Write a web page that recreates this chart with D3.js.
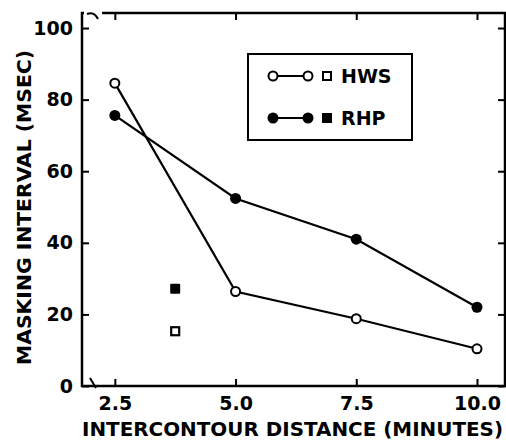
<!DOCTYPE html>
<html>
<head>
<meta charset="utf-8">
<script src="https://cdn.jsdelivr.net/npm/d3@7"></script>
<style>
  body { margin: 0; background: #fff; }
  svg { display: block; }
</style>
</head>
<body>
<div id="chart"></div>
<script>
// data
const distances = [2.5, 5.0, 7.5, 10.0];
const hwsValues = [84.6, 26.4, 18.8, 10.4];
const rhpValues = [75.6, 52.4, 41.0, 22.0];
const squareX = 3.75;
const hwsSquare = 15.3;
const rhpSquare = 27.2;
const xTicks = [2.5, 5.0, 7.5, 10.0];
const yTicks = [0, 20, 40, 60, 80, 100];

const W = 506, H = 440;
const plotLeft = 82, plotRight = 505, plotTop = 13, plotBottom = 386;
const font = "'DejaVu Sans', sans-serif";

const svg = d3.select("#chart").append("svg")
  .attr("width", W)
  .attr("height", H);

const x = d3.scaleLinear().domain([1.82, 10.58]).range([plotLeft, plotRight]);
const y = d3.scaleLinear().domain([0, 104.2]).range([plotBottom, plotTop]);

// frame
svg.append("rect")
  .attr("x", plotLeft).attr("y", plotTop)
  .attr("width", plotRight - plotLeft).attr("height", plotBottom - plotTop)
  .attr("fill", "none").attr("stroke", "#000").attr("stroke-width", 2.5);

const tickLen = 7;

const styleAxis = (g) => {
  g.select(".domain").remove();
  g.selectAll(".tick line").attr("stroke", "#000").attr("stroke-width", 2);
};

svg.append("g")
  .attr("transform", `translate(0,${plotBottom})`)
  .call(d3.axisBottom(x).tickValues(xTicks).tickSize(-tickLen).tickPadding(11)
    .tickFormat(d3.format(".1f")))
  .call(styleAxis)
  .call(g => g.selectAll("text")
    .attr("font-family", font).attr("font-size", 19).attr("font-weight", "bold")
    .attr("fill", "#000"));

svg.append("g")
  .attr("transform", `translate(0,${plotTop})`)
  .call(d3.axisTop(x).tickValues(xTicks).tickSize(-tickLen).tickFormat(""))
  .call(styleAxis);

svg.append("g")
  .attr("transform", `translate(${plotLeft},0)`)
  .call(d3.axisLeft(y).tickValues(yTicks).tickSize(-tickLen).tickPadding(9))
  .call(styleAxis)
  .call(g => g.selectAll("text")
    .attr("font-family", font).attr("font-size", 19).attr("font-weight", "bold")
    .attr("fill", "#000"));

svg.append("g")
  .attr("transform", `translate(${plotRight},0)`)
  .call(d3.axisRight(y).tickValues(yTicks).tickSize(-tickLen).tickFormat(""))
  .call(styleAxis);

// axis break marks near the corner
svg.append("path")
  .attr("d", `M${plotLeft + 8},${plotBottom - 8} L${plotLeft + 14},${plotBottom + 2}`)
  .attr("stroke", "#000").attr("stroke-width", 2).attr("fill", "none");
svg.append("rect")
  .attr("x", plotLeft + 2).attr("y", plotTop - 3).attr("width", 18).attr("height", 6)
  .attr("fill", "#fff");
svg.append("path")
  .attr("d", `M${plotLeft + 5},${plotTop + 1} Q${plotLeft + 12},${plotTop - 2} ${plotLeft + 16},${plotTop + 6}`)
  .attr("stroke", "#000").attr("stroke-width", 2).attr("fill", "none");

// lines
const line = d3.line().x((d, i) => x(distances[i])).y(d => y(d));

[hwsValues, rhpValues].forEach(vals => {
  svg.append("path")
    .datum(vals)
    .attr("d", line)
    .attr("fill", "none").attr("stroke", "#000").attr("stroke-width", 2.2);
});

// points
svg.selectAll(".hws")
  .data(hwsValues)
  .join("circle")
  .attr("class", "hws")
  .attr("cx", (d, i) => x(distances[i]))
  .attr("cy", d => y(d))
  .attr("r", 4.5)
  .attr("fill", "#fff").attr("stroke", "#000").attr("stroke-width", 2);

svg.selectAll(".rhp")
  .data(rhpValues)
  .join("circle")
  .attr("class", "rhp")
  .attr("cx", (d, i) => x(distances[i]))
  .attr("cy", d => y(d))
  .attr("r", 5.5)
  .attr("fill", "#000");

// lone squares
const sq = 10;
svg.append("rect")
  .attr("x", x(squareX) - sq / 2 + 1).attr("y", y(hwsSquare) - sq / 2 + 1)
  .attr("width", sq - 2).attr("height", sq - 2)
  .attr("fill", "#fff").attr("stroke", "#000").attr("stroke-width", 2.2);
svg.append("rect")
  .attr("x", x(squareX) - sq / 2).attr("y", y(rhpSquare) - sq / 2)
  .attr("width", sq).attr("height", sq).attr("rx", 1)
  .attr("fill", "#000");

// legend
const lg = svg.append("g");
lg.append("rect")
  .attr("x", 248).attr("y", 54).attr("width", 164).attr("height", 86)
  .attr("fill", "#fff").attr("stroke", "#000").attr("stroke-width", 2);

const legendItems = [
  { label: "HWS", filled: false, cy: 76 },
  { label: "RHP", filled: true, cy: 118 }
];

legendItems.forEach(d => {
  lg.append("line")
    .attr("x1", 273).attr("x2", 308).attr("y1", d.cy).attr("y2", d.cy)
    .attr("stroke", "#000").attr("stroke-width", 2);
  [273, 308].forEach(cx => {
    lg.append("circle")
      .attr("cx", cx).attr("cy", d.cy)
      .attr("r", d.filled ? 5.5 : 4.5)
      .attr("fill", d.filled ? "#000" : "#fff")
      .attr("stroke", d.filled ? "none" : "#000")
      .attr("stroke-width", 2);
  });
  if (d.filled) {
    lg.append("rect")
      .attr("x", 322).attr("y", d.cy - 5).attr("width", 10).attr("height", 10)
      .attr("fill", "#000");
  } else {
    lg.append("rect")
      .attr("x", 323).attr("y", d.cy - 4).attr("width", 8).attr("height", 8)
      .attr("fill", "#fff").attr("stroke", "#000").attr("stroke-width", 2);
  }
  lg.append("text")
    .attr("x", 341).attr("y", d.cy)
    .attr("dominant-baseline", "central")
    .attr("font-family", font).attr("font-size", 19).attr("font-weight", "bold")
    .attr("fill", "#000")
    .text(d.label);
});

// axis titles
svg.append("text")
  .attr("x", 82).attr("y", 436)
  .attr("font-family", font).attr("font-size", 20).attr("font-weight", "bold")
  .attr("textLength", 421).attr("lengthAdjust", "spacingAndGlyphs")
  .attr("fill", "#000")
  .text("INTERCONTOUR DISTANCE (MINUTES)");

svg.append("text")
  .attr("transform", "translate(31,365) rotate(-90)")
  .attr("font-family", font).attr("font-size", 20).attr("font-weight", "bold")
  .attr("textLength", 315).attr("lengthAdjust", "spacingAndGlyphs")
  .attr("fill", "#000")
  .text("MASKING INTERVAL (MSEC)");
</script>
</body>
</html>
